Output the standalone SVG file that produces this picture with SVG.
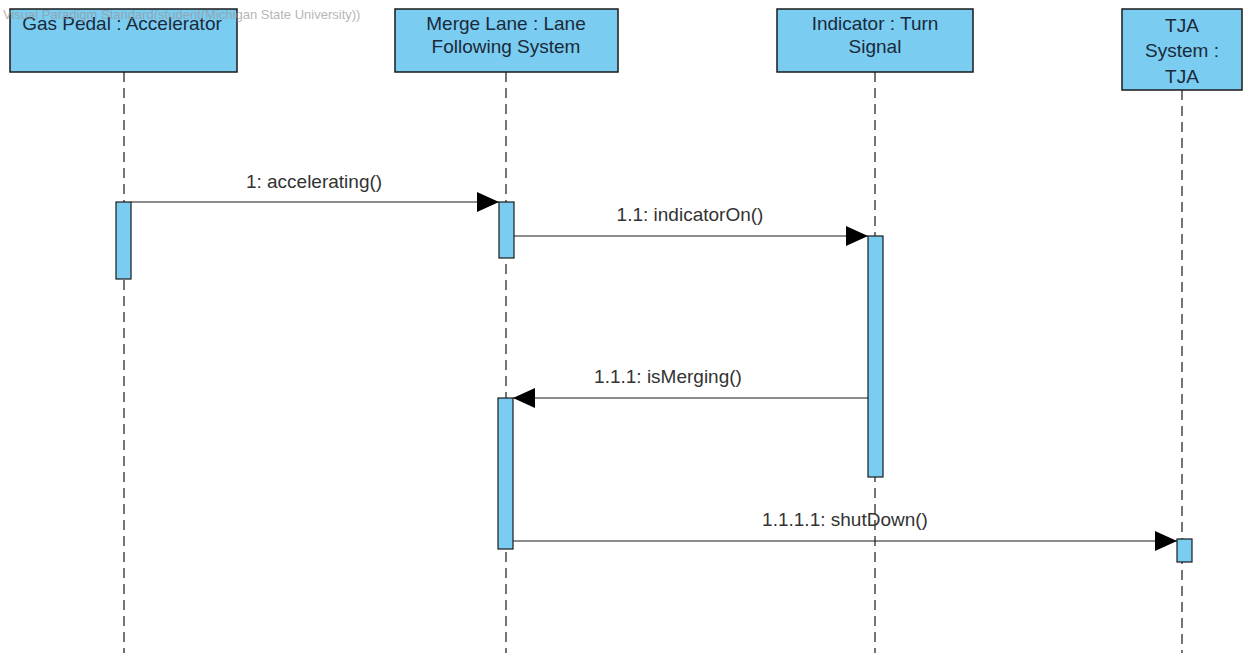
<svg xmlns="http://www.w3.org/2000/svg" width="1243" height="653" viewBox="0 0 1243 653">
<style>
.box{fill:#7accf1;stroke:#1a1a1a;stroke-width:1.5}
.act{fill:#7accf1;stroke:#1a1a1a;stroke-width:1.2}
.life{stroke:#1a1a1a;stroke-width:1.2;stroke-dasharray:10 6;fill:none}
.msg{stroke:#1a1a1a;stroke-width:1.2;fill:none}
.t{font-family:"Liberation Sans",Arial,sans-serif;font-size:19px;fill:#1a2a3a;text-anchor:middle}
.lbl{font-family:"Liberation Sans",Arial,sans-serif;font-size:19px;fill:#333;text-anchor:middle}
.wm{font-family:"Liberation Sans",Arial,sans-serif;font-size:13px;fill:#999;opacity:0.7}
</style>
<defs>
<marker id="ah" markerWidth="22" markerHeight="20" refX="22" refY="10" orient="auto" markerUnits="userSpaceOnUse">
<path d="M0,0 L22,10 L0,20 Z" fill="#000"/>
</marker>
</defs>
<rect width="1243" height="653" fill="#fff"/>
<g id="lifelines">
<line class="life" x1="124" y1="72" x2="124" y2="653"/>
<line class="life" x1="506" y1="72" x2="506" y2="653"/>
<line class="life" x1="875" y1="72" x2="875" y2="653"/>
<line class="life" x1="1182" y1="90" x2="1182" y2="653"/>
</g>
<g id="gasPedal">
<rect class="box" x="10" y="9" width="227" height="63"/>
<text class="t" x="122" y="30">Gas Pedal : Accelerator</text>
<rect class="act" x="116" y="202" width="15" height="77"/>
</g>
<g id="mergeLane">
<rect class="box" x="395" y="9" width="223" height="63"/>
<text class="t" x="506" y="30">Merge Lane : Lane</text>
<text class="t" x="506" y="53">Following System</text>
<rect class="act" x="499" y="202" width="15" height="56"/>
<rect class="act" x="498" y="398" width="15" height="151"/>
</g>
<g id="indicator">
<rect class="box" x="777" y="9" width="196" height="63"/>
<text class="t" x="875" y="30">Indicator : Turn</text>
<text class="t" x="875" y="53">Signal</text>
<rect class="act" x="868" y="236" width="15" height="241"/>
</g>
<g id="tja">
<rect class="box" x="1122" y="9" width="120" height="81"/>
<text class="t" x="1182" y="32">TJA</text>
<text class="t" x="1182" y="57">System :</text>
<text class="t" x="1182" y="83">TJA</text>
<rect class="act" x="1177" y="539" width="15" height="23"/>
</g>
<g id="connectors">
<line class="msg" x1="131" y1="202" x2="499" y2="202" marker-end="url(#ah)"/>
<text class="lbl" x="314" y="188">1: accelerating()</text>
<line class="msg" x1="514" y1="236" x2="868" y2="236" marker-end="url(#ah)"/>
<text class="lbl" x="690" y="221">1.1: indicatorOn()</text>
<line class="msg" x1="868" y1="398" x2="513" y2="398" marker-end="url(#ah)"/>
<text class="lbl" x="668" y="383">1.1.1: isMerging()</text>
<line class="msg" x1="513" y1="541" x2="1177" y2="541" marker-end="url(#ah)"/>
<text class="lbl" x="845" y="526">1.1.1.1: shutDown()</text>
</g>
<text class="wm" x="3" y="19">Visual Paradigm Standard(student(Michigan State University))</text>
</svg>
